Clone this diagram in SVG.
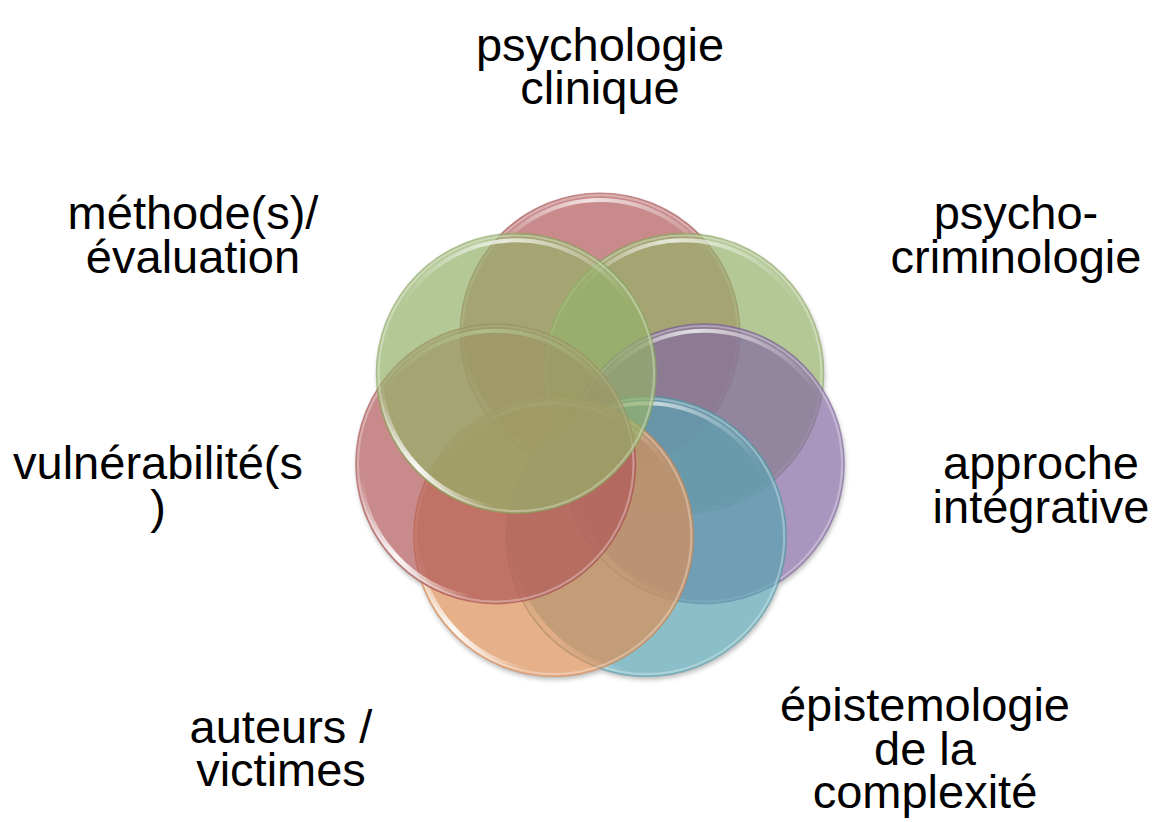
<svg xmlns="http://www.w3.org/2000/svg" xmlns:xlink="http://www.w3.org/1999/xlink" width="1160" height="822" viewBox="0 0 1160 822">
<style>
  .lbl { font-family: "Liberation Sans", Arial, sans-serif; font-size: 47px; fill: #000; text-anchor: middle; }
  .disc { fill-opacity: 0.7; stroke-width: 1.2; stroke-opacity: 0.55; }
  .rim { fill: none; stroke: #fff; stroke-opacity: 0.3; stroke-width: 2.2; }
  .red { fill: #b05858; stroke: #a24a4a; }
  .green { fill: #94b069; stroke: #86a25a; }
  .purple { fill: #8369a2; stroke: #765a96; }
  .blue { fill: #58a2b0; stroke: #4a94a2; }
  .orange { fill: #db8e55; stroke: #cd8048; }
  .shadowc { fill: #000; }
</style>
<defs>
  <linearGradient id="gTop" x1="0" y1="0" x2="1" y2="0">
    <stop offset="0" stop-color="#fff" stop-opacity="0"/>
    <stop offset="0.45" stop-color="#fff" stop-opacity="0.75"/>
    <stop offset="1" stop-color="#fff" stop-opacity="0"/>
  </linearGradient>
  <linearGradient id="gBot" x1="0" y1="0" x2="1" y2="1">
    <stop offset="0" stop-color="#fff" stop-opacity="0"/>
    <stop offset="0.5" stop-color="#fff" stop-opacity="0.92"/>
    <stop offset="1" stop-color="#fff" stop-opacity="0"/>
  </linearGradient>
  <g id="gloss">
    <circle class="rim" cx="0" cy="0" r="137.8"/>
    <path d="M -115.2 -66.5 A 133 133 0 0 1 115.2 -66.5" fill="none" stroke="url(#gTop)" stroke-width="4" stroke-linecap="round"/>
    <path d="M -23.6 133.9 A 136 136 0 0 1 -135.5 11.9" fill="none" stroke="url(#gBot)" stroke-width="5" stroke-linecap="round"/>
  </g>
  <filter id="blur" x="-20%" y="-20%" width="140%" height="140%">
    <feGaussianBlur stdDeviation="2.5"/>
  </filter>
  <mask id="outside" maskUnits="userSpaceOnUse" x="0" y="0" width="1160" height="822">
    <rect x="0" y="0" width="1160" height="822" fill="#fff"/>
    <circle cx="600" cy="333" r="140" fill="#000"/>
    <circle cx="683.7" cy="373.3" r="140" fill="#000"/>
    <circle cx="704.3" cy="463.8" r="140" fill="#000"/>
    <circle cx="646.4" cy="536.4" r="140" fill="#000"/>
    <circle cx="553.6" cy="536.4" r="140" fill="#000"/>
    <circle cx="495.7" cy="463.8" r="140" fill="#000"/>
    <circle cx="516.3" cy="373.3" r="140" fill="#000"/>
  </mask>
</defs>
<rect width="1160" height="822" fill="#fff"/>

<g id="shadow" mask="url(#outside)" opacity="0.28">
  <g filter="url(#blur)" transform="translate(1,3)" class="shadowc">
    <circle cx="600" cy="333" r="140"/>
    <circle cx="683.7" cy="373.3" r="140"/>
    <circle cx="704.3" cy="463.8" r="140"/>
    <circle cx="646.4" cy="536.4" r="140"/>
    <circle cx="553.6" cy="536.4" r="140"/>
    <circle cx="495.7" cy="463.8" r="140"/>
    <circle cx="516.3" cy="373.3" r="140"/>
  </g>
</g>

<g id="connectors"></g>

<g id="node-psychologie-clinique">
  <circle class="disc red" cx="600" cy="333" r="140"/>
  <use xlink:href="#gloss" x="600" y="333"/>
  <text class="lbl" x="600" y="61"><tspan x="600">psychologie</tspan><tspan x="600" dy="43">clinique</tspan></text>
</g>
<g id="node-psycho-criminologie">
  <circle class="disc green" cx="683.7" cy="373.3" r="140"/>
  <use xlink:href="#gloss" x="683.7" y="373.3"/>
  <text class="lbl" x="1016" y="229"><tspan x="1016">psycho-</tspan><tspan x="1016" dy="44">criminologie</tspan></text>
</g>
<g id="node-approche-integrative">
  <circle class="disc purple" cx="704.3" cy="463.8" r="140"/>
  <use xlink:href="#gloss" x="704.3" y="463.8"/>
  <text class="lbl" x="1041" y="479"><tspan x="1041">approche</tspan><tspan x="1041" dy="44">intégrative</tspan></text>
</g>
<g id="node-epistemologie">
  <circle class="disc blue" cx="646.4" cy="536.4" r="140"/>
  <use xlink:href="#gloss" x="646.4" y="536.4"/>
  <text class="lbl" x="925" y="721"><tspan x="925">épistemologie</tspan><tspan x="925" dy="44">de la</tspan><tspan x="925" dy="43">complexité</tspan></text>
</g>
<g id="node-auteurs-victimes">
  <circle class="disc orange" cx="553.6" cy="536.4" r="140"/>
  <use xlink:href="#gloss" x="553.6" y="536.4"/>
  <text class="lbl" x="281" y="743"><tspan x="281">auteurs /</tspan><tspan x="281" dy="43">victimes</tspan></text>
</g>
<g id="node-vulnerabilite">
  <circle class="disc red" cx="495.7" cy="463.8" r="140"/>
  <use xlink:href="#gloss" x="495.7" y="463.8"/>
  <text class="lbl" x="158" y="479"><tspan x="158">vulnérabilité(s</tspan><tspan x="158" dy="44">)</tspan></text>
</g>
<g id="node-methode-evaluation">
  <circle class="disc green" cx="516.3" cy="373.3" r="140"/>
  <use xlink:href="#gloss" x="516.3" y="373.3"/>
  <text class="lbl" x="193" y="229"><tspan x="193">méthode(s)/</tspan><tspan x="193" dy="44">évaluation</tspan></text>
</g>
</svg>
